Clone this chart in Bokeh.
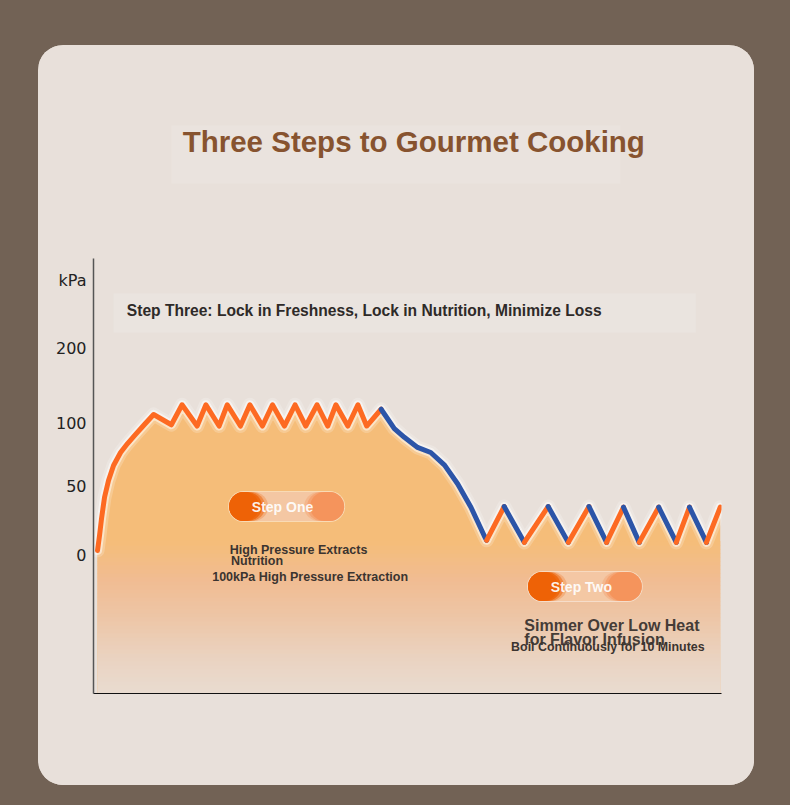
import numpy as np
from bokeh.plotting import figure
from bokeh.models import Label, BoxAnnotation, FixedTicker, Range1d
from bokeh.embed import file_html
from bokeh.resources import INLINE

# ---------------- data ----------------
# time axis is unitless (0..100 across the chart width)
heat_t = [0.64, 0.96, 1.28, 1.75, 2.39, 3.19, 4.31, 5.42, 6.70, 7.97, 9.57, 12.4,
          14.1, 16.5, 17.9, 20.0, 21.3, 23.4, 24.9, 26.9, 28.5, 30.4, 32.1, 33.8,
          35.6, 37.3, 38.6, 40.5, 42.1, 43.5, 45.8]
heat_kpa = [3.6, 14.5, 26.8, 42.0, 54.8, 66.7, 77.0, 84.1, 91.3, 98.4, 112, 99,
            125, 98, 125, 98, 125, 98, 125, 98, 125, 98, 125, 98,
            125, 98, 125, 98, 125, 98, 119]
cool_t = [45.8, 47.9, 49.5, 51.6, 53.7, 55.9, 58.0, 60.1, 62.2, 62.6]
cool_kpa = [119, 96, 89, 81, 77, 67, 52, 35, 14.5, 11]
simmer_t = [62.6, 65.4, 68.6, 72.4, 75.6, 78.9, 81.7, 84.4, 86.9, 90.0, 92.8, 94.9, 97.6, 99.8]
simmer_kpa = [11, 35.5, 9.5, 35.5, 9.5, 35.5, 9.5, 35, 9.5, 35, 9.5, 35, 9.5, 35]

y_tick_kpa = [0, 50, 100, 200]
y_tick_labels = ["0", "50", "100", "200"]
y_unit = "kPa"
title_text = "Three Steps to Gourmet Cooking"
step3_text = "Step Three: Lock in Freshness, Lock in Nutrition, Minimize Loss"
step1_badge = "Step One"
step1_lines = ["High Pressure Extracts", " Nutrition", "100kPa High Pressure Extraction"]
step2_badge = "Step Two"
step2_lines = ["Simmer Over Low Heat", " for Flavor Infusion", "Boil Continuously for 10 Minutes"]

# ---------------- colours ----------------
PAGE = "#726255"
CARD = "#e8e0da"
ORANGE = "#fd6a22"
BLUE = "#2c55a8"
TITLE_C = "#87532f"
TEXT_C = "#3b3430"
TOP_FILL = "#f5bd79"

# The original y axis is not uniform: piecewise scale kPa -> axis position
KPA_BREAKS = [0, 50, 100, 200]
AXIS_BREAKS = [138, 207, 270, 345]
AXIS_TOP = 435   # the drawn axis stops here; space above holds the heading
UNIT_POS = 413   # where the unit label sits on the axis


def to_axis(v):
    return np.interp(np.asarray(v, dtype=float), KPA_BREAKS, AXIS_BREAKS)


PX = 6.28  # screen px per x unit (for badge shapes only)

p = figure(frame_width=628, frame_height=628, x_range=Range1d(0, 100), y_range=Range1d(0, 628),
           title=None, output_backend="svg", toolbar_location=None,
           min_border_left=55, min_border_right=33, min_border_top=20, min_border_bottom=92,
           background_fill_color=CARD, border_fill_color=CARD)
p.outline_line_color = None
p.margin = (45, 0, 0, 38)
p.styles = {"border-radius": "25px", "overflow": "hidden", "background-color": CARD}
p.grid.visible = False

# axes
yax = p.yaxis[0]
ticks = [float(v) for v in to_axis(y_tick_kpa)] + [float(UNIT_POS)]
yax.ticker = FixedTicker(ticks=ticks)
yax.major_label_overrides = {t: lab for t, lab in zip(ticks, y_tick_labels + [y_unit])}
yax.bounds = (0, AXIS_TOP)
yax.axis_line_color = "#555555"
yax.axis_line_width = 1.5
yax.major_tick_line_color = None
yax.minor_tick_line_color = None
yax.major_tick_out = 0
yax.major_tick_in = 0
yax.minor_tick_out = 0
yax.major_label_text_font = "DejaVu Sans"
yax.major_label_text_font_size = "16px"
yax.major_label_text_color = "#222222"
yax.major_label_standoff = 7

xax = p.xaxis[0]
xax.ticker = FixedTicker(ticks=[])
xax.major_label_text_font_size = "0px"
xax.axis_line_color = "#111111"
xax.axis_line_width = 1.2
xax.major_tick_line_color = None
xax.minor_tick_line_color = None
xax.major_tick_out = 0
xax.minor_tick_out = 0

# heading box and step three box (subtle lighter panels)
p.add_layout(BoxAnnotation(left=12.4, right=83.9, bottom=510, top=568,
                           fill_color="#eae3de", fill_alpha=1, line_color=None, level="underlay"))
p.add_layout(BoxAnnotation(left=3.2, right=95.9, bottom=361, top=400,
                           fill_color="#eae4df", fill_alpha=1, line_color=None, level="underlay"))

# ---------------- area fill with gradient ----------------
all_t = np.array(heat_t + cool_t[1:] + simmer_t[1:])
all_y = to_axis(heat_kpa + cool_kpa[1:] + simmer_kpa[1:])
p.varea(x=all_t, y1=0, y2=all_y, fill_color=TOP_FILL)

stops_pos = [0, 35, 75, 115, 152]
stops_col = [(0xe9, 0xdc, 0xd0), (0xea, 0xd3, 0xc1), (0xed, 0xc6, 0xa7),
             (0xf1, 0xbc, 0x91), (0xf5, 0xbd, 0x79)]
edges = np.arange(0, 153, 4.0)
for lo, hi in zip(edges[:-1], edges[1:]):
    mid = (lo + hi) / 2
    rgb = [int(round(np.interp(mid, stops_pos, [c[i] for c in stops_col]))) for i in range(3)]
    col = "#%02x%02x%02x" % tuple(rgb)
    p.varea(x=all_t, y1=lo, y2=np.clip(all_y, lo, hi + 0.6), fill_color=col)

# ---------------- line with glow ----------------
p.line(all_t, all_y, line_width=14, line_color="white", line_alpha=0.2,
       line_join="round", line_cap="round")
p.line(all_t, all_y, line_width=9, line_color="white", line_alpha=0.5,
       line_join="round", line_cap="round")
p.line(heat_t, to_axis(heat_kpa), line_width=5, line_color=ORANGE,
       line_join="round", line_cap="round")
p.line(cool_t, to_axis(cool_kpa), line_width=5, line_color=BLUE,
       line_join="round", line_cap="round")
sy = to_axis(simmer_kpa)
seg_col = [ORANGE if b > a else BLUE for a, b in zip(sy[:-1], sy[1:])]
p.segment(x0=simmer_t[:-1], y0=sy[:-1], x1=simmer_t[1:], y1=sy[1:],
          line_width=5, line_color=seg_col, line_cap="round")


# ---------------- badges ----------------
def badge(xl, xr, y, text, text_x):
    # outline + translucent body
    p.segment(x0=[xl], y0=[y], x1=[xr], y1=[y], line_width=31, line_color="white",
              line_alpha=0.45, line_cap="round")
    p.segment(x0=[xl], y0=[y], x1=[xr], y1=[y], line_width=29, line_color="#f3c6a2",
              line_alpha=0.95, line_cap="round")
    # left dark blob with soft edge
    for ext, a in [(10, 0.25), (7, 0.5), (4, 0.8), (1, 1.0)]:
        p.segment(x0=[xl], y0=[y], x1=[xl + ext / PX], y1=[y], line_width=29,
                  line_color="#ee6206", line_alpha=a, line_cap="round")
    # right light blob with soft edge
    for ext, a in [(11, 0.3), (8, 0.5), (5, 0.9)]:
        p.segment(x0=[xr - ext / PX], y0=[y], x1=[xr], y1=[y], line_width=29,
                  line_color="#f5925a", line_alpha=a, line_cap="round")
    p.add_layout(Label(x=text_x, y=y, text=text, text_align="center", text_baseline="middle",
                       text_color="white", text_alpha=0.92, text_font="Liberation Sans",
                       text_font_style="bold", text_font_size="14px"))


badge(23.9, 37.6, 187, step1_badge, 30.1)
badge(71.5, 85.0, 107, step2_badge, 77.7)


def lab(x, y, text, size, color=TEXT_C, align="left", font="Liberation Sans", style="bold"):
    p.add_layout(Label(x=x, y=y, text=text, text_align=align, text_baseline="middle",
                       text_color=color, text_font=font, text_font_style=style,
                       text_font_size=size))


lab(21.7, 144, step1_lines[0], "12.5px")
lab(21.9, 133, step1_lines[1], "12.5px")
lab(18.9, 116.5, step1_lines[2], "12.5px")

lab(68.6, 68, step2_lines[0], "16px", color="#453c37")
lab(68.6, 54, step2_lines[1], "16px", color="#453c37")
lab(66.5, 47, step2_lines[2], "12.4px")

lab(5.3, 383, step3_text, "15.6px", color="#2e2a28")

# heading
lab(51.0, 552, title_text, "29.5px", color=TITLE_C, align="center")

html = file_html(p, INLINE, title_text)
style = "<style>html, body { background: %s !important; }</style>" % PAGE
if "</head>" in html:
    html = html.replace("</head>", style + "</head>", 1)
else:
    html = style + html
open("out.html", "w").write(html)
